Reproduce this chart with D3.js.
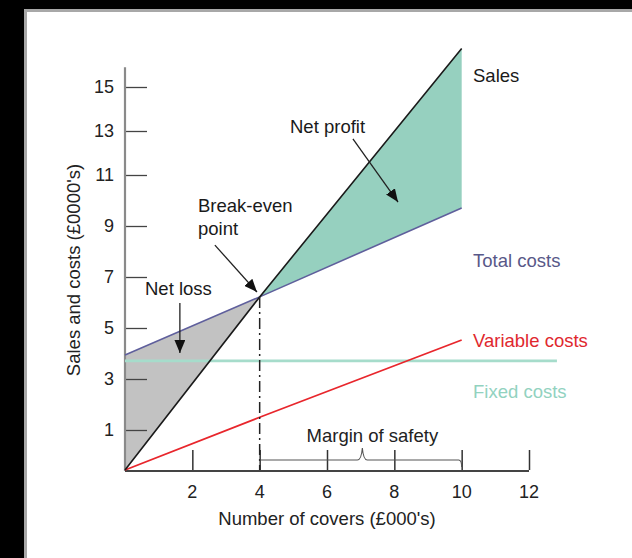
<!DOCTYPE html>
<html>
<head>
<meta charset="utf-8">
<script src="https://cdn.jsdelivr.net/npm/d3@7"></script>
<style>
  html, body { margin: 0; padding: 0; background: #000; }
  svg { display: block; }
  text { font-family: "Liberation Sans", Arial, sans-serif; }
</style>
</head>
<body>
<div id="chart"></div>
<script>
// Break-even chart

// data (sales and costs in £0000's, covers in 000's)
var xTicks = [2, 4, 6, 8, 10, 12];
var yTicks = [1, 3, 5, 7, 9, 11, 13, 15];
var covers = [0, 4, 10];
var sales = [0, 6.22, 16.75];
var totalCosts = [3.94, 6.22, 9.71];
var variableCosts = [0, 1.5, 4.53];
var fixedCovers = [0, 12.83];
var fixedCosts = [3.71, 3.71];
var breakEven = [4, 6.22];
var marginOfSafety = [4, 10];

var width = 632, height = 558;

var svg = d3.select("#chart").append("svg")
  .attr("width", width)
  .attr("height", height);

// photographed page: black surround, white sheet with grey edge
svg.append("rect").attr("width", width).attr("height", height).attr("fill", "#000");
svg.append("rect")
  .attr("x", 25.5).attr("y", 10.5)
  .attr("width", width + 20).attr("height", height + 20)
  .attr("fill", "#fff")
  .attr("stroke", "#a8a8a8")
  .attr("stroke-width", 3);

// scales (the printed y axis is not quite even, so a few break points)
var x = d3.scaleLinear().domain([0, 12]).range([125, 529]);
var y = d3.scaleLinear().domain([0, 1, 11, 15]).range([470, 430, 175, 87]);

var line = d3.line()
  .x(function(d) { return x(d[0]); })
  .y(function(d) { return y(d[1]); });

function pairs(xs, ys) {
  return xs.map(function(v, i) { return [v, ys[i]]; });
}

// arrow head
svg.append("defs").append("marker")
  .attr("id", "arrow")
  .attr("viewBox", "0 0 12 10")
  .attr("refX", 12).attr("refY", 5)
  .attr("markerWidth", 13).attr("markerHeight", 11)
  .attr("markerUnits", "userSpaceOnUse")
  .attr("orient", "auto")
  .append("path")
  .attr("d", "M0,0 L12,5 L0,10 Z")
  .attr("fill", "#111");

// Net loss and net profit areas
svg.append("path")
  .attr("d", line([[0, totalCosts[0]], [0, 0], breakEven]) + "Z")
  .attr("fill", "#c2c2c2");
svg.append("path")
  .attr("d", line([breakEven, [covers[2], sales[2]], [covers[2], totalCosts[2]]]) + "Z")
  .attr("fill", "#96d0bf");

// axes
var yAxis = d3.axisRight(y).tickValues(yTicks).tickSize(22).tickFormat("");
var gy = svg.append("g").attr("transform", "translate(" + x(0) + ",0)").call(yAxis);
gy.select(".domain").remove();
gy.selectAll(".tick line").attr("stroke", "#444").attr("stroke-width", 1.3);

svg.append("line")
  .attr("x1", x(0)).attr("x2", x(0))
  .attr("y1", y(15.9)).attr("y2", y(0) + 1)
  .attr("stroke", "#8a8a8a").attr("stroke-width", 2.2);

svg.selectAll(".ylab")
  .data(yTicks).enter().append("text")
  .attr("class", "ylab")
  .attr("x", 114)
  .attr("y", function(d) { return y(d) + 6; })
  .attr("text-anchor", "end")
  .attr("font-size", 18)
  .attr("fill", "#222")
  .text(function(d) { return d; });

var xAxis = d3.axisTop(x).tickValues(xTicks).tickSize(20).tickFormat("");
var gx = svg.append("g").attr("transform", "translate(0," + y(0) + ")").call(xAxis);
gx.select(".domain").remove();
gx.selectAll(".tick line").attr("stroke", "#333").attr("stroke-width", 1.5);

svg.append("line")
  .attr("x1", x(0)).attr("x2", x(12))
  .attr("y1", y(0) + 1).attr("y2", y(0) + 1)
  .attr("stroke", "#444").attr("stroke-width", 1.8);

svg.selectAll(".xlab")
  .data(xTicks).enter().append("text")
  .attr("class", "xlab")
  .attr("x", function(d) { return x(d); })
  .attr("y", 498)
  .attr("text-anchor", "middle")
  .attr("font-size", 18)
  .attr("fill", "#222")
  .text(function(d) { return d; });

// axis titles
svg.append("text")
  .attr("x", x(6)).attr("y", 525)
  .attr("text-anchor", "middle")
  .attr("font-size", 18.5)
  .attr("fill", "#222")
  .text("Number of covers (£000's)");
svg.append("text")
  .attr("transform", "translate(80,270) rotate(-90)")
  .attr("text-anchor", "middle")
  .attr("font-size", 18.5)
  .attr("fill", "#222")
  .text("Sales and costs (£0000's)");

// cost and sales lines
svg.append("path")
  .attr("d", line(pairs(fixedCovers, fixedCosts)))
  .attr("stroke", "#a6dccb").attr("stroke-width", 2.6).attr("fill", "none");
svg.append("path")
  .attr("d", line(pairs(covers, variableCosts)))
  .attr("stroke", "#e8262c").attr("stroke-width", 1.8).attr("fill", "none");
svg.append("path")
  .attr("d", line(pairs(covers, totalCosts)))
  .attr("stroke", "#5f5f9c").attr("stroke-width", 1.6).attr("fill", "none");
svg.append("path")
  .attr("d", line(pairs(covers, sales)))
  .attr("stroke", "#1a1a1a").attr("stroke-width", 1.6).attr("fill", "none");

// break-even drop line
svg.append("line")
  .attr("x1", x(breakEven[0])).attr("x2", x(breakEven[0]))
  .attr("y1", y(breakEven[1])).attr("y2", y(0))
  .attr("stroke", "#222").attr("stroke-width", 1.5)
  .attr("stroke-dasharray", "11,4,2,4");

// margin of safety brace
var mid = (marginOfSafety[0] + marginOfSafety[1]) / 2 + 0.05;
var by = y(0.25), tip = y(0.55);
svg.append("path")
  .attr("d", "M" + x(marginOfSafety[0]) + "," + by +
    " L" + (x(mid) - 5) + "," + by +
    " Q" + (x(mid) - 1) + "," + by + " " + x(mid) + "," + tip +
    " Q" + (x(mid) + 1) + "," + by + " " + (x(mid) + 5) + "," + by +
    " L" + (x(marginOfSafety[1]) - 3) + "," + by +
    " Q" + x(marginOfSafety[1]) + "," + by + " " + x(marginOfSafety[1]) + "," + (by + 7))
  .attr("stroke", "#555").attr("stroke-width", 1.1).attr("fill", "none");
svg.append("text")
  .attr("x", x(mid) + 10).attr("y", 442)
  .attr("text-anchor", "middle")
  .attr("font-size", 18.5)
  .attr("fill", "#222")
  .text("Margin of safety");

// annotation arrows
var arrows = [
  [[6.77, 12.64], [8.11, 9.94]],
  [[2.67, 8.25], [3.92, 6.41]],
  [[1.63, 5.98], [1.63, 4.02]]
];
svg.selectAll(".arrow")
  .data(arrows).enter().append("path")
  .attr("class", "arrow")
  .attr("d", function(d) { return line(d); })
  .attr("stroke", "#222").attr("stroke-width", 1.3).attr("fill", "none")
  .attr("marker-end", "url(#arrow)");

// labels
function label(txt, px, py, colour) {
  svg.append("text")
    .attr("x", px).attr("y", py)
    .attr("font-size", 18.5)
    .attr("fill", colour)
    .text(txt);
}
label("Sales", 473, 82, "#1a1a1a");
label("Total costs", 473, 267, "#585888");
label("Variable costs", 473, 347, "#e0282e");
label("Fixed costs", 473, 398, "#92d2bf");
label("Net profit", 290, 133, "#1a1a1a");
label("Break-even", 198, 212, "#1a1a1a");
label("point", 198, 235, "#1a1a1a");
label("Net loss", 145, 295, "#1a1a1a");
</script>
</body>
</html>
